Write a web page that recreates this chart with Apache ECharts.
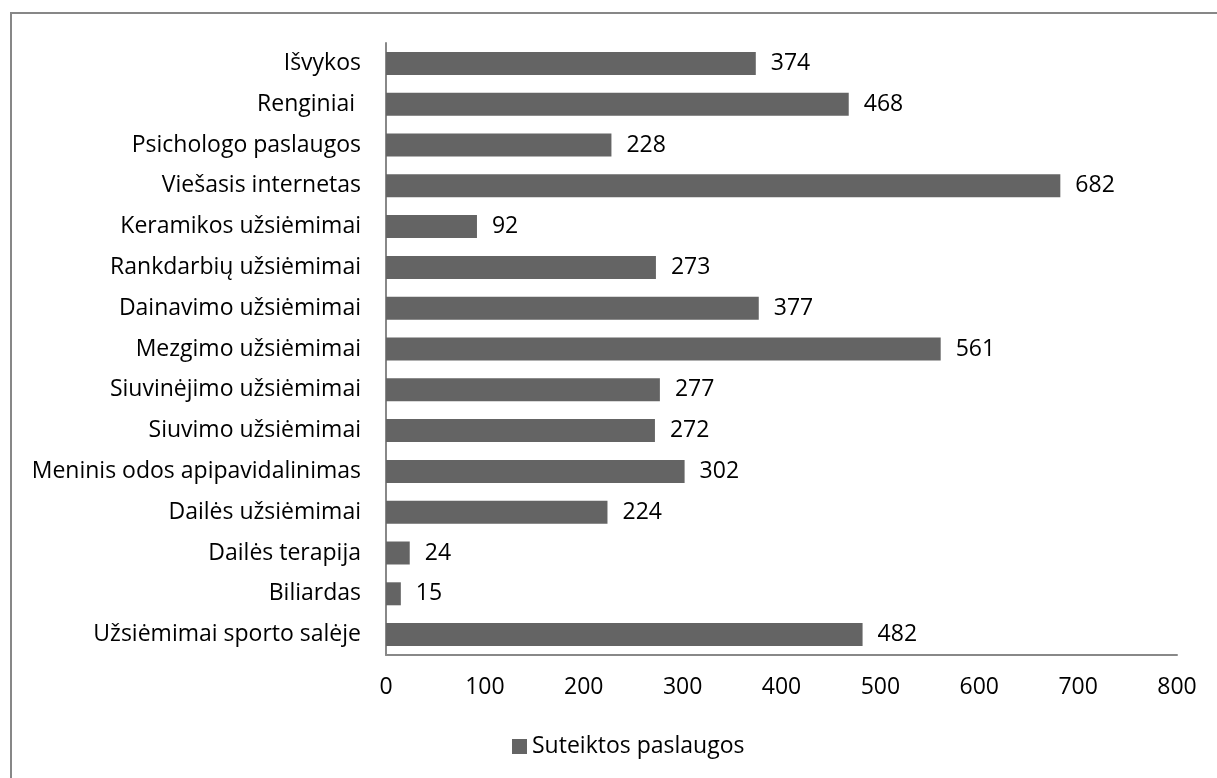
<!DOCTYPE html>
<html>
<head>
<meta charset="utf-8">
<script src="https://cdn.jsdelivr.net/npm/echarts@6/dist/echarts.min.js"></script>
<style>html,body{margin:0;padding:0;background:#fff}#c{width:1217px;height:778px}</style>
</head>
<body>
<div id="c"></div>
<script>
const categories = ["Užsiėmimai sporto salėje","Biliardas","Dailės terapija","Dailės užsiėmimai","Meninis odos apipavidalinimas","Siuvimo užsiėmimai","Siuvinėjimo užsiėmimai","Mezgimo užsiėmimai","Dainavimo užsiėmimai","Rankdarbių užsiėmimai","Keramikos užsiėmimai","Viešasis internetas","Psichologo paslaugos","Renginiai ","Išvykos"];
const values = [482,15,24,224,302,272,277,561,377,273,92,682,228,468,374];
const seriesName = "Suteiktos paslaugos";
const xTicks = [0,100,200,300,400,500,600,700,800];

const FONT = "'Open Sans', sans-serif";
const FS = 23;
const chart = echarts.init(document.getElementById('c'), null, {renderer:'canvas'});
chart.setOption({
  backgroundColor:'#fff',
  animation:false,
  graphic:[{type:'rect',shape:{x:11,y:13,width:1230,height:800},style:{fill:'none',stroke:'#878787',lineWidth:2},silent:true}],
  grid:{left:386,right:40,top:43,bottom:123,containLabel:false},
  legend:{data:[seriesName],top:730,left:507,icon:'rect',itemWidth:15,itemHeight:15,itemGap:5,
    textStyle:{fontFamily:FONT,fontSize:FS,color:'#000'}},
  xAxis:{type:'value',min:xTicks[0],max:xTicks[xTicks.length-1],interval:100,
    axisLine:{show:true,lineStyle:{color:'#888',width:2}},axisTick:{show:false},splitLine:{show:false},
    axisLabel:{fontFamily:FONT,fontSize:FS,color:'#000',margin:21}},
  yAxis:{type:'category',data:categories,
    axisLine:{show:true,lineStyle:{color:'#888',width:2}},axisTick:{show:false},
    axisLabel:{fontFamily:FONT,fontSize:FS,color:'#000',margin:25}},
  series:[{name:seriesName,type:'bar',data:values,barWidth:23,
    itemStyle:{color:'#646464'},
    label:{show:true,position:'right',distance:15,fontFamily:FONT,fontSize:FS,color:'#000'}}]
});
</script>
</body>
</html>
